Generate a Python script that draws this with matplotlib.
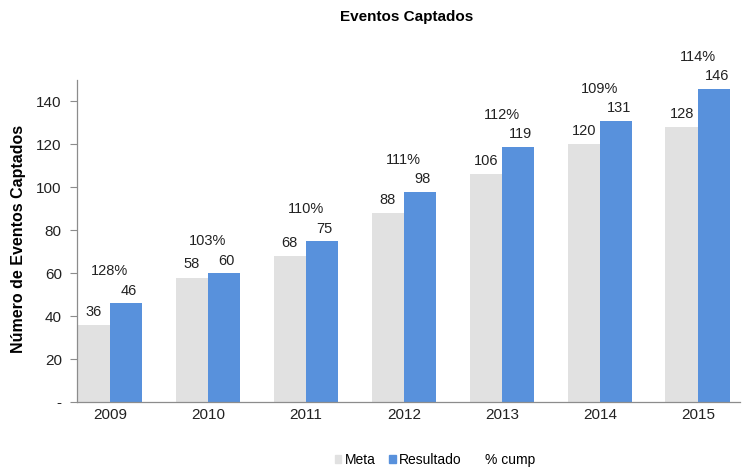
import numpy as np
import matplotlib
matplotlib.use('Agg')
from matplotlib import pyplot as plt
from matplotlib.patches import Patch
from matplotlib.lines import Line2D

plt.rcParams['font.family'] = ['Liberation Sans', 'DejaVu Sans']

# dados
anos = ['2009', '2010', '2011', '2012', '2013', '2014', '2015']
meta = [36, 58, 68, 88, 106, 120, 128]
resultado = [46, 60, 75, 98, 119, 131, 146]
cump = [128, 103, 110, 111, 112, 109, 114]

cor_meta = '#E1E1E1'
cor_res = '#5891DC'

fig = plt.figure(figsize=(7.53, 4.68), dpi=100)
ax = fig.add_axes([0.1023, 0.141, 0.8804, 0.688])

x = np.arange(len(anos))
w = 0.33
ax.bar(x - w / 2, meta, w, color=cor_meta, label='Meta')
ax.bar(x + w / 2, resultado, w, color=cor_res, label='Resultado')

# rótulos dos valores
for xi, v in zip(x - w / 2, meta):
    ax.annotate(str(v), (xi, v), xytext=(0, 9.5), textcoords='offset points',
                ha='center', va='center', fontsize=10.5, color='#222222')
for xi, v in zip(x + w / 2, resultado):
    ax.annotate(str(v), (xi, v), xytext=(2, 9), textcoords='offset points',
                ha='center', va='center', fontsize=10.5, color='#222222')
# % cumprimento
for xi, v, p in zip(x, resultado, cump):
    ax.annotate(f'{p}%', (xi, v), xytext=(0, 23), textcoords='offset points',
                ha='center', va='center', fontsize=10.5, color='#222222')

ax.set_xlim(-0.335, 6.43)
ax.set_ylim(0, 150)
ax.set_xticks(x)
ax.set_xticklabels(anos)
ax.set_yticks(np.arange(0, 141, 20))
ax.set_yticklabels(['-'] + [str(v) for v in range(20, 141, 20)])
ax.tick_params(axis='x', length=0, pad=4, labelsize=11, labelcolor='#222222')
ax.tick_params(axis='y', length=5, width=0.8, color='#8C8C8C', pad=6,
               labelsize=11, labelcolor='#222222')
for s in ['top', 'right']:
    ax.spines[s].set_visible(False)
for s in ['left', 'bottom']:
    ax.spines[s].set_color('#8C8C8C')
    ax.spines[s].set_linewidth(0.9)

fig.text(0.54, 0.963, 'Eventos Captados', ha='center', va='center',
         fontsize=11, fontweight='bold')
fig.text(0.024, 0.49, 'Número de Eventos Captados', ha='center', va='center',
         rotation=90, fontsize=11.5, fontweight='bold')

handles = [Patch(color=cor_meta), Patch(color=cor_res),
           Line2D([], [], linestyle='none')]
fig.legend(handles, ['Meta', 'Resultado', '% cump'], loc='center',
           bbox_to_anchor=(0.578, 0.017), ncol=3, frameon=False, fontsize=10,
           handlelength=0.45, handleheight=0.5, handletextpad=0.25,
           columnspacing=1.0)

fig.savefig('out.png', dpi=100)
